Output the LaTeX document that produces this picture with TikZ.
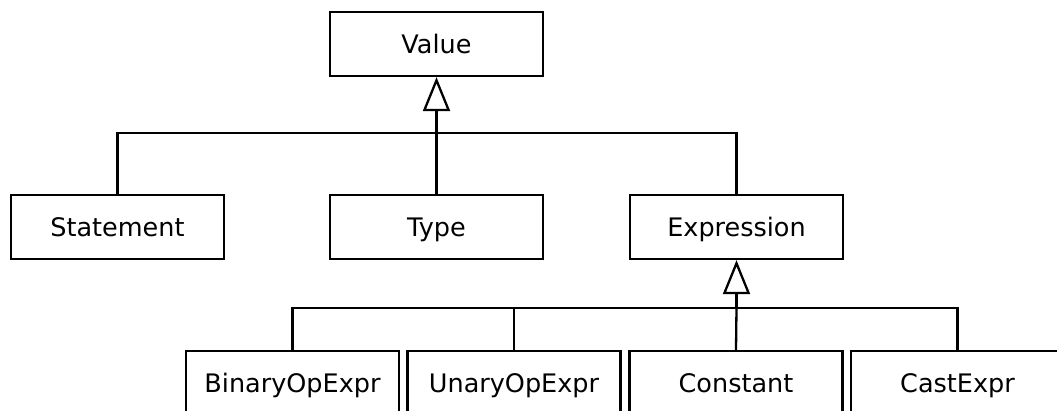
\documentclass[tikz,border=0pt]{standalone}
\usepackage{fontspec}
\setmainfont{DejaVu Sans}
\usetikzlibrary{arrows.meta}
\begin{document}
\begin{tikzpicture}[x=1pt,y=-1pt,
  cls/.style={draw, line width=2.3pt, minimum width=213pt, minimum height=64pt,
    inner sep=0pt, text height=21pt, text depth=2pt,
    font=\fontsize{25.5}{30}\selectfont, fill=white},
  link/.style={line width=2.3pt},
  inherit/.style={line width=3pt, -{Triangle[open, length=34pt, width=27pt, line width=2.3pt]}}]
\useasboundingbox (0,0) rectangle (1057,410);
\clip (0,0) rectangle (1057,410);

% class boxes
\node[cls] (value) at (436.5,44) {Value};
\node[cls] (statement) at (117.5,227) {Statement};
\node[cls] (type) at (436.5,227) {Type};
\node[cls] (expression) at (736.5,227) {Expression};
\node[cls] (binop) at (292.5,383) {BinaryOpExpr};
\node[cls] (unop) at (514,383) {UnaryOpExpr};
\node[cls] (constant) at (736,383) {Constant};
\node[cls] (cast) at (957.5,383) {CastExpr};

% junctions of the generalisation trees
\coordinate (j1) at (436.5,133);
\coordinate (j2) at (736.5,308);

% Value subclasses
\draw[link] (statement.north) |- (j1) -| (expression.north);
\draw[link] (type.north) -- (j1);
\draw[inherit] (j1) -- (value.south);

% Expression subclasses
\draw[link] (binop.north) |- (j2) -| (cast.north);
\draw[link] (unop.north) -- (unop.north |- j2);
\draw[link] (constant.north) -- (j2);
\draw[inherit] (j2) -- (expression.south);
\end{tikzpicture}
\end{document}
